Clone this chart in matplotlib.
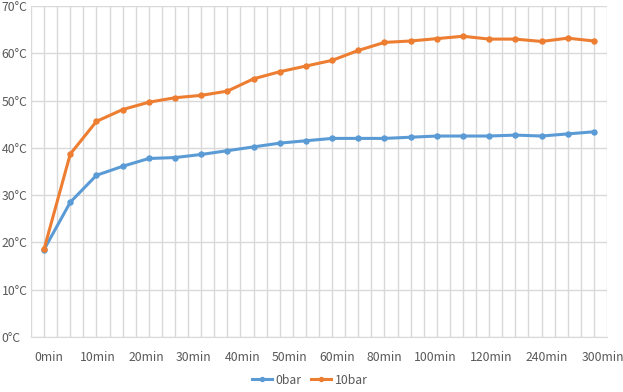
import numpy as np
import matplotlib.pyplot as plt

# data (22 samples per series)
bar0 = [18.5, 28.5, 34.2, 36.1, 37.75, 37.95, 38.6, 39.4, 40.2, 41.0, 41.5,
        42.0, 42.0, 42.0, 42.25, 42.5, 42.5, 42.5, 42.7, 42.5, 42.95, 43.4]
bar10 = [18.6, 38.7, 45.6, 48.1, 49.65, 50.6, 51.1, 52.0, 54.6, 56.1, 57.3,
         58.5, 60.6, 62.3, 62.6, 63.1, 63.6, 63.0, 63.0, 62.5, 63.2, 62.6]
x_labels = ["0min", "10min", "20min", "30min", "40min", "50min",
            "60min", "80min", "100min", "120min", "240min", "300min"]
label_pos = [0.18, 2.06, 3.89, 5.69, 7.59, 9.39, 11.18, 12.98, 14.92, 17.06, 19.2, 21.35]
y_ticks = [0, 10, 20, 30, 40, 50, 60, 70]

BLUE = "#5B9BD5"
ORANGE = "#ED7D31"
GRID = "#D9D9D9"
TEXT = "#595959"

plt.rcParams['font.family'] = ['Noto Sans CJK SC', 'DejaVu Sans']

fig = plt.figure(figsize=(6.23, 3.92), dpi=100)
ax = fig.add_axes([31 / 623, 1 - 337 / 392, 576 / 623, 331 / 392])

x = np.arange(len(bar0))
l0, = ax.plot(x, bar0, color=BLUE, lw=2.2, marker="o", ms=3.6, label="0bar", zorder=3)
l1, = ax.plot(x, bar10, color=ORANGE, lw=2.2, marker="o", ms=3.6, label="10bar", zorder=3)

ax.set_xlim(-0.5, len(bar0) - 0.5)
ax.set_ylim(0, 70)

# vertical gridlines every half category, horizontal every 10 degrees
ax.set_xticks(np.arange(-0.5, len(bar0), 0.5), minor=True)
ax.grid(True, which="minor", axis="x", color=GRID, lw=1.0)
ax.set_yticks(y_ticks)
ax.set_yticklabels([f"{v}°C" for v in y_ticks])
ax.grid(True, which="major", axis="y", color=GRID, lw=1.0)
ax.set_axisbelow(True)

ax.set_xticks(label_pos)
ax.set_xticklabels(x_labels)

for s in ax.spines.values():
    s.set_visible(False)
ax.spines["bottom"].set_visible(True)
ax.spines["bottom"].set_color(GRID)

ax.tick_params(axis="both", which="both", length=0, colors=TEXT, labelsize=8.8)
ax.tick_params(axis="x", pad=10)
ax.tick_params(axis="y", pad=21)
for lab in ax.get_yticklabels():
    lab.set_horizontalalignment("left")

fig.legend(handles=[l0, l1], loc="center", bbox_to_anchor=(310 / 623, 1 - 380 / 392),
           ncol=2, frameon=False, fontsize=8.8, handlelength=1.6, handletextpad=0.3,
           columnspacing=0.8, labelcolor=TEXT, markerscale=0.8)

fig.savefig("out.png", dpi=100)
